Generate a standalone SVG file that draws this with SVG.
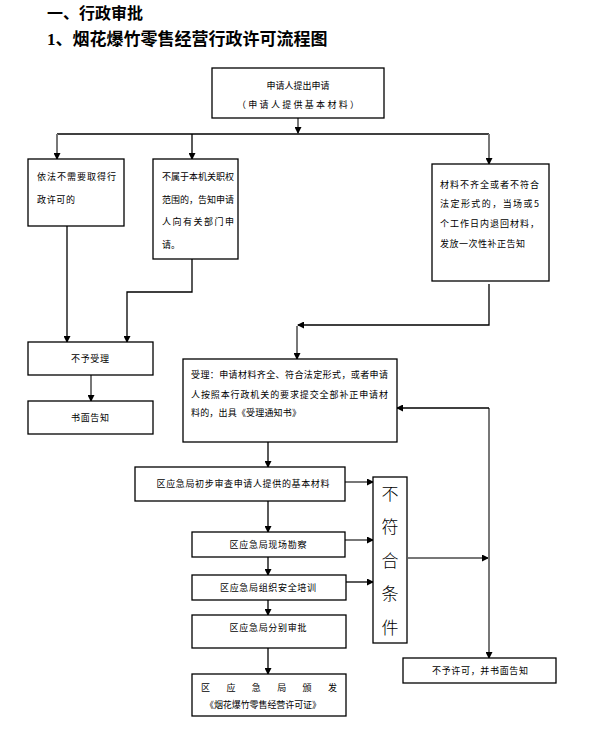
<svg xmlns="http://www.w3.org/2000/svg" width="598" height="746" viewBox="0 0 598 746">
<defs>
<marker id="ah" markerUnits="userSpaceOnUse" markerWidth="7" markerHeight="7" refX="6" refY="3.5" orient="auto">
<path d="M0,0 L7,3.5 L0,7 Z" fill="#000"/>
</marker>
</defs>
<style>
.box{fill:#fff;stroke:#000;stroke-width:1.3}
.t{font-family:"Noto Sans CJK SC","Liberation Sans",sans-serif;font-size:9px;fill:#000}
.c{text-anchor:middle}
.ln{fill:none;stroke:#000;stroke-width:1.3}
.gr{fill:none;stroke:#777;stroke-width:2}
.h{font-family:"Liberation Serif","Noto Sans CJK SC",serif;font-weight:bold;fill:#000}
.big{font-family:"Noto Sans CJK SC",sans-serif;font-size:17px;font-weight:300;fill:#000;text-anchor:middle}
</style>
<rect width="598" height="746" fill="#fff"/>
<g id="title">
<text class="h" x="47" y="19" font-size="16">一、行政审批</text>
<text class="h" x="47" y="45" font-size="17">1、烟花爆竹零售经营行政许可流程图</text>
</g>
<g id="connectors">
<line class="gr" x1="298" y1="118" x2="298" y2="133" marker-end="url(#ah)"/>
<line class="ln" x1="57" y1="134" x2="489" y2="134"/>
<line class="gr" x1="57" y1="134" x2="57" y2="159" marker-end="url(#ah)"/>
<line class="ln" x1="192" y1="134" x2="192" y2="159" marker-end="url(#ah)"/>
<line class="gr" x1="489" y1="134" x2="489" y2="164" marker-end="url(#ah)"/>
<line class="ln" x1="67" y1="226" x2="67" y2="342" marker-end="url(#ah)"/>
<polyline class="ln" points="192,259 192,292 127,292 127,342" marker-end="url(#ah)"/>
<polyline class="ln" points="489,284 489,325 298,325" marker-end="url(#ah)"/>
<line class="gr" x1="297" y1="326" x2="297" y2="359" marker-end="url(#ah)"/>
<line class="gr" x1="91" y1="375" x2="91" y2="401" marker-end="url(#ah)"/>
<line class="ln" x1="268" y1="442" x2="268" y2="467" marker-end="url(#ah)"/>
<line class="ln" x1="268" y1="501" x2="268" y2="532" marker-end="url(#ah)"/>
<line class="ln" x1="268" y1="557" x2="268" y2="575" marker-end="url(#ah)"/>
<line class="ln" x1="268" y1="600" x2="268" y2="615" marker-end="url(#ah)"/>
<line class="ln" x1="268" y1="648" x2="268" y2="674" marker-end="url(#ah)"/>
<line class="gr" x1="345" y1="482" x2="373" y2="482" marker-end="url(#ah)"/>
<line class="gr" x1="345" y1="540" x2="373" y2="540" marker-end="url(#ah)"/>
<line class="ln" x1="346" y1="582" x2="373" y2="582" marker-end="url(#ah)"/>
<line class="gr" x1="408" y1="558" x2="488" y2="558" marker-end="url(#ah)"/>
<line class="gr" x1="489" y1="408" x2="489" y2="658" marker-end="url(#ah)"/>
<line class="ln" x1="489" y1="408" x2="397" y2="408" marker-end="url(#ah)"/>
</g>
<g id="n-apply">
<rect class="box" x="212" y="68" width="172" height="50"/>
<text class="t c" x="298" y="89">申请人提出申请</text>
<text class="t c" x="298" y="108" textLength="122" lengthAdjust="spacing">（申请人提供基本材料）</text>
</g>
<g id="n-noneed">
<rect class="box" x="28" y="159" width="96" height="67"/>
<text class="t" x="37" y="180" textLength="79" lengthAdjust="spacing">依法不需要取得行</text>
<text class="t" x="37" y="203" textLength="38" lengthAdjust="spacing">政许可的</text>
</g>
<g id="n-notours">
<rect class="box" x="153" y="159" width="85" height="100"/>
<text class="t" x="162" y="180" textLength="72" lengthAdjust="spacing">不属于本机关职权</text>
<text class="t" x="162" y="203" textLength="72" lengthAdjust="spacing">范围的，告知申请</text>
<text class="t" x="162" y="225" textLength="72" lengthAdjust="spacing">人向有关部门申</text>
<text class="t" x="162" y="248">请。</text>
</g>
<g id="n-incomplete">
<rect class="box" x="432" y="164" width="117" height="117"/>
<text class="t" x="440" y="188" textLength="99" lengthAdjust="spacing">材料不齐全或者不符合</text>
<text class="t" x="440" y="207" textLength="99" lengthAdjust="spacing">法定形式的，当场或5</text>
<text class="t" x="440" y="227" textLength="99" lengthAdjust="spacing">个工作日内退回材料，</text>
<text class="t" x="440" y="247" textLength="85" lengthAdjust="spacing">发放一次性补正告知</text>
</g>
<g id="n-reject">
<rect class="box" x="28" y="342" width="125" height="33"/>
<text class="t c" x="90" y="362" textLength="38" lengthAdjust="spacing">不予受理</text>
</g>
<g id="n-notify">
<rect class="box" x="28" y="401" width="125" height="33"/>
<text class="t c" x="90" y="421" textLength="38" lengthAdjust="spacing">书面告知</text>
</g>
<g id="n-accept">
<rect class="box" x="183" y="359" width="214" height="83"/>
<text class="t" x="191" y="378" textLength="197" lengthAdjust="spacing">受理：申请材料齐全、符合法定形式，或者申请</text>
<text class="t" x="191" y="398" textLength="197" lengthAdjust="spacing">人按照本行政机关的要求提交全部补正申请材</text>
<text class="t" x="191" y="416" textLength="110" lengthAdjust="spacing">料的，出具《受理通知书》</text>
</g>
<g id="n-review">
<rect class="box" x="135" y="467" width="210" height="34"/>
<text class="t c" x="243" y="487" textLength="173" lengthAdjust="spacing">区应急局初步审查申请人提供的基本材料</text>
</g>
<g id="n-survey">
<rect class="box" x="192" y="532" width="153" height="25"/>
<text class="t c" x="268" y="548" textLength="77" lengthAdjust="spacing">区应急局现场勘察</text>
</g>
<g id="n-training">
<rect class="box" x="192" y="575" width="154" height="25"/>
<text class="t c" x="268" y="591" textLength="96" lengthAdjust="spacing">区应急局组织安全培训</text>
</g>
<g id="n-approve">
<rect class="box" x="192" y="615" width="154" height="33"/>
<text class="t c" x="268" y="631" textLength="77" lengthAdjust="spacing">区应急局分别审批</text>
</g>
<g id="n-issue">
<rect class="box" x="192" y="674" width="154" height="42"/>
<text class="t" x="201" y="691" textLength="136" lengthAdjust="spacing">区应急局颁发</text>
<text class="t c" x="263" y="708" textLength="116" lengthAdjust="spacing">《烟花爆竹零售经营许可证》</text>
</g>
<g id="n-fail">
<rect class="box" x="373" y="477" width="34" height="166"/>
<text class="big" x="390" y="500">不</text>
<text class="big" x="390" y="533">符</text>
<text class="big" x="390" y="567">合</text>
<text class="big" x="390" y="600">条</text>
<text class="big" x="390" y="634">件</text>
</g>
<g id="n-deny">
<rect class="box" x="403" y="658" width="153" height="25"/>
<text class="t c" x="480" y="674" textLength="96" lengthAdjust="spacing">不予许可，并书面告知</text>
</g>
</svg>
